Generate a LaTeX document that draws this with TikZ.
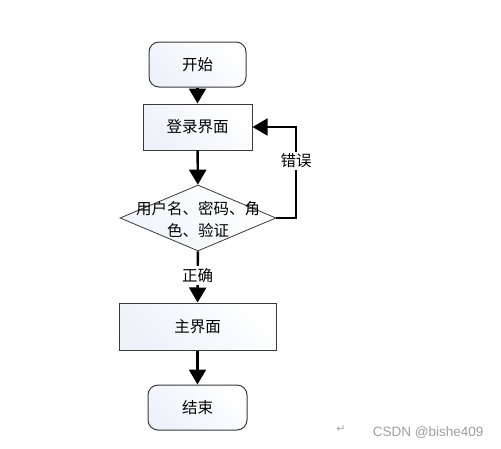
\documentclass[tikz,border=0pt]{standalone}
\usepackage{fontspec}
\setmainfont{Noto Sans CJK SC}
\newfontfamily\wmfont{Liberation Sans}
\newfontfamily\symfont{DejaVu Sans}
\usetikzlibrary{shapes.geometric,arrows.meta}
\definecolor{boxedge}{HTML}{3A3A3A}
\definecolor{boxfillA}{HTML}{E6ECF7}
\tikzset{
  x=1pt, y=-1pt,
  txt/.style={font=\fontsize{15.5}{22}\selectfont, text=black},
  rbox/.style={draw=boxedge, line width=1pt, rounded corners=10pt,
    top color=boxfillA!70, bottom color=white, shading angle=135, txt},
  sbox/.style={draw=boxedge, line width=1pt,
    top color=boxfillA!70, bottom color=white, shading angle=135, txt},
  dbox/.style={diamond, draw=boxedge, line width=0.8pt, inner sep=0pt,
    top color=boxfillA!60, bottom color=white, shading angle=135},
  flow/.style={line width=2.4pt, -{Triangle[width=17pt,length=15pt]}},
  back/.style={line width=1.7pt, -{Triangle[width=17pt,length=15pt]}},
  lbl/.style={fill=white, inner sep=2pt, txt}
}
\begin{document}
\begin{tikzpicture}
\useasboundingbox[fill=white] (0,0) rectangle (501,448);
\node[rbox, minimum width=97pt, minimum height=45pt] (start) at (197.5,64.5) {开始};
\node[sbox, minimum width=109pt, minimum height=46pt] (login) at (197.5,127) {登录界面};
\node[dbox, minimum width=156pt, minimum height=66pt] (check) at (198,218) {};
\node[txt, align=center, inner sep=0pt] (checktext) at (198,219) {用户名、密码、角\\色、验证};
\node[sbox, minimum width=157pt, minimum height=47pt] (main) at (197.5,326.5) {主界面};
\node[rbox, minimum width=99pt, minimum height=45pt] (end) at (197.5,407.5) {结束};
\coordinate (loopA) at (296,218);
\coordinate (loopB) at (296,127);
\draw[flow] (start) -- (login);
\draw[flow] (login) -- (check);
\draw[flow] (check) -- node[lbl, pos=0.47] (ok) {正确} (main);
\draw[flow] (main) -- (end);
\draw[back] (check.east) -- (loopA) -- node[lbl, pos=0.63] (err) {错误} (loopB) -- (login.east);
\node[text=gray!70, font=\symfont\fontsize{11}{11}\selectfont] (para) at (341,429) {↵};
\node[text=gray!75, font=\wmfont\fontsize{13.5}{14}\selectfont, anchor=east] (wm) at (487,433) {CSDN @bishe409};
\end{tikzpicture}
\end{document}
